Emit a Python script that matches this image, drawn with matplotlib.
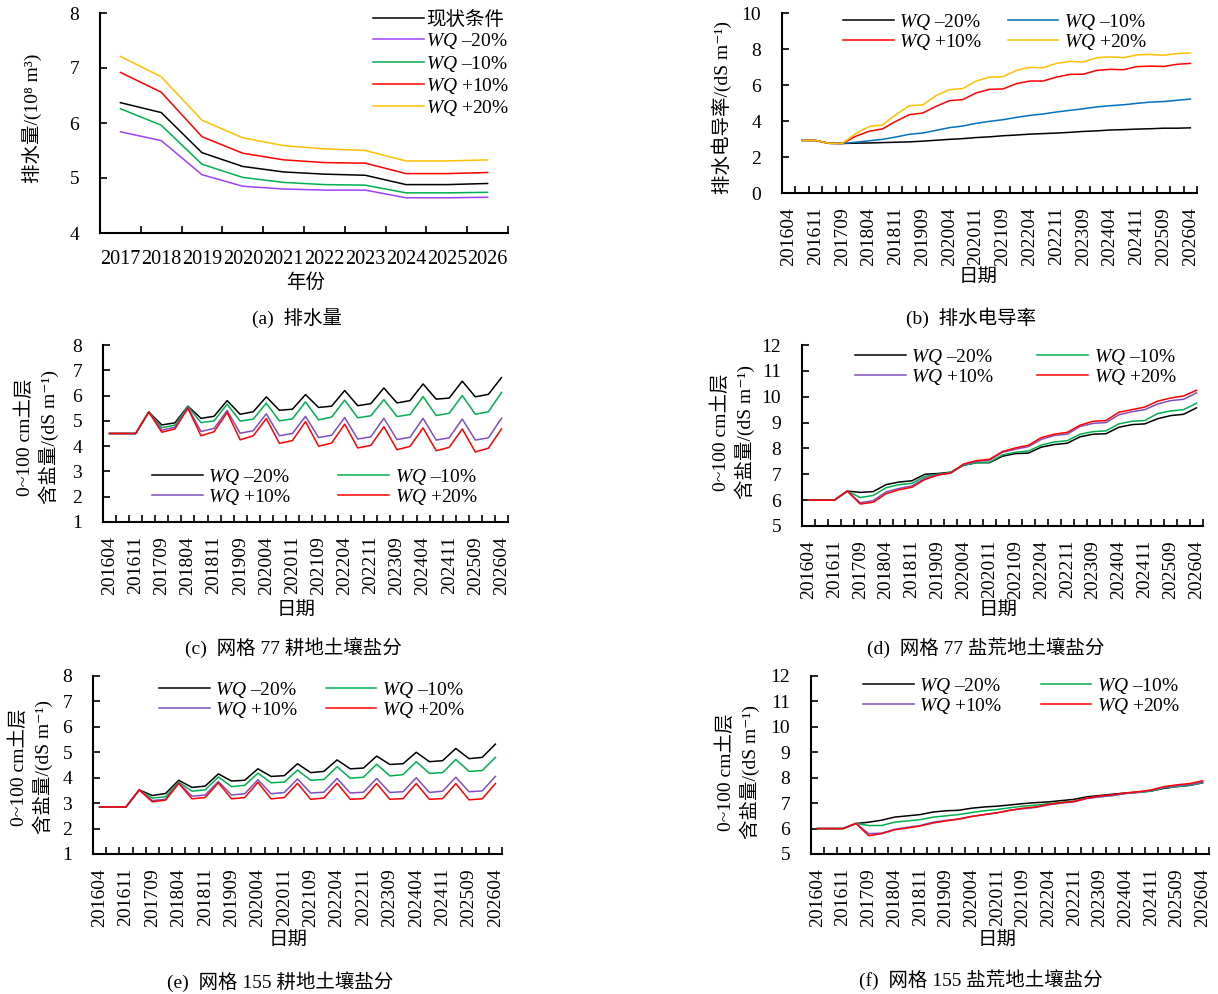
import numpy as np
import matplotlib.pyplot as plt

plt.rcParams['font.family'] = ['Liberation Serif', 'DejaVu Serif', 'Noto Sans CJK SC']
plt.rcParams['mathtext.fontset'] = 'custom'
plt.rcParams['mathtext.rm'] = 'Liberation Serif'
plt.rcParams['mathtext.it'] = 'Liberation Serif:italic'
plt.rcParams['axes.unicode_minus'] = False
plt.rcParams['font.size'] = 14

nan = np.nan

# (a) drainage volume by year
years = ['2017', '2018', '2019', '2020', '2021', '2022', '2023', '2024', '2025', '2026']
a_base = [6.37, 6.19, 5.46, 5.21, 5.11, 5.07, 5.05, 4.88, 4.88, 4.90]
a_m20 = [5.84, 5.68, 5.06, 4.85, 4.80, 4.78, 4.78, 4.64, 4.64, 4.65]
a_m10 = [6.26, 5.96, 5.25, 5.01, 4.92, 4.88, 4.87, 4.73, 4.73, 4.74]
a_p10 = [6.92, 6.56, 5.75, 5.45, 5.33, 5.28, 5.27, 5.08, 5.08, 5.10]
a_p20 = [7.21, 6.84, 6.05, 5.73, 5.59, 5.53, 5.50, 5.31, 5.31, 5.33]

# date categories (b)-(f)
dates = ['201604', '201609', '201611', '201704', '201709', '201711', '201804', '201809', '201811',
         '201904', '201909', '201911', '202004', '202009', '202011', '202104', '202109', '202111',
         '202204', '202209', '202211', '202304', '202309', '202311', '202404', '202409', '202411',
         '202504', '202509', '202511', '202604']

b_m20 = [nan, 2.92, 2.92, 2.76, 2.75, 2.77, 2.78, 2.80, 2.82, 2.84, 2.88, 2.93, 2.98, 3.02, 3.08, 3.12,
         3.18, 3.22, 3.27, 3.30, 3.33, 3.37, 3.42, 3.45, 3.50, 3.52, 3.55, 3.57, 3.60, 3.60, 3.62]
b_m10 = [nan, 2.92, 2.92, 2.76, 2.75, 2.82, 2.90, 2.98, 3.11, 3.26, 3.33, 3.48, 3.63, 3.72, 3.87, 3.98,
         4.07, 4.20, 4.31, 4.39, 4.50, 4.59, 4.68, 4.78, 4.85, 4.90, 4.98, 5.05, 5.08, 5.15, 5.22]
b_p10 = [nan, 2.92, 2.92, 2.76, 2.75, 3.15, 3.43, 3.56, 3.98, 4.35, 4.44, 4.81, 5.13, 5.19, 5.56, 5.76,
         5.78, 6.07, 6.22, 6.22, 6.44, 6.59, 6.60, 6.81, 6.87, 6.85, 7.02, 7.05, 7.03, 7.15, 7.20]
b_p20 = [nan, 2.92, 2.92, 2.76, 2.75, 3.30, 3.69, 3.78, 4.35, 4.85, 4.89, 5.41, 5.74, 5.80, 6.22, 6.44,
         6.46, 6.81, 6.98, 6.96, 7.20, 7.31, 7.28, 7.52, 7.56, 7.52, 7.67, 7.70, 7.65, 7.75, 7.78]

c_m20 = [4.5, 4.5, 4.5, 5.35, 4.84, 4.92, 5.58, 5.10, 5.18, 5.80, 5.26, 5.36, 5.95, 5.42, 5.46, 6.04,
         5.53, 5.58, 6.20, 5.60, 5.68, 6.30, 5.71, 5.80, 6.46, 5.86, 5.90, 6.57, 5.95, 6.05, 6.71]
c_m10 = [4.5, 4.5, 4.5, 5.35, 4.73, 4.83, 5.57, 4.93, 5.00, 5.66, 4.99, 5.07, 5.70, 5.00, 5.08, 5.75,
         5.04, 5.15, 5.82, 5.12, 5.20, 5.84, 5.17, 5.25, 5.96, 5.21, 5.30, 6.00, 5.26, 5.36, 6.12]
c_p10 = [4.5, 4.5, 4.5, 5.35, 4.63, 4.75, 5.53, 4.58, 4.70, 5.41, 4.51, 4.61, 5.28, 4.41, 4.50, 5.18,
         4.34, 4.43, 5.13, 4.28, 4.37, 5.10, 4.26, 4.35, 5.10, 4.24, 4.33, 5.07, 4.24, 4.33, 5.10]
c_p20 = [4.5, 4.5, 4.5, 5.35, 4.55, 4.68, 5.50, 4.41, 4.57, 5.33, 4.25, 4.41, 5.09, 4.11, 4.22, 4.97,
         4.00, 4.12, 4.87, 3.93, 4.03, 4.77, 3.86, 3.99, 4.72, 3.82, 3.95, 4.68, 3.77, 3.92, 4.68]

d_m20 = [6.0, 6.0, 6.0, 6.35, 6.30, 6.33, 6.60, 6.70, 6.75, 7.00, 7.03, 7.08, 7.35, 7.45, 7.45, 7.70,
         7.80, 7.82, 8.05, 8.15, 8.20, 8.45, 8.55, 8.57, 8.82, 8.92, 8.95, 9.15, 9.27, 9.32, 9.57]
d_m10 = [6.0, 6.0, 6.0, 6.35, 6.10, 6.18, 6.48, 6.60, 6.65, 6.92, 7.00, 7.07, 7.35, 7.45, 7.47, 7.75,
         7.85, 7.90, 8.13, 8.25, 8.30, 8.55, 8.65, 8.68, 8.95, 9.05, 9.08, 9.35, 9.45, 9.50, 9.75]
d_p10 = [6.0, 6.0, 6.0, 6.35, 5.90, 5.98, 6.32, 6.45, 6.55, 6.85, 6.98, 7.05, 7.38, 7.50, 7.55, 7.85,
         7.97, 8.07, 8.35, 8.50, 8.55, 8.85, 8.97, 9.00, 9.30, 9.42, 9.50, 9.72, 9.85, 9.90, 10.15]
d_p20 = [6.0, 6.0, 6.0, 6.35, 5.85, 5.92, 6.25, 6.40, 6.50, 6.80, 6.97, 7.05, 7.40, 7.53, 7.58, 7.88,
         8.02, 8.12, 8.42, 8.55, 8.62, 8.90, 9.05, 9.08, 9.40, 9.50, 9.60, 9.83, 9.95, 10.03, 10.25]

e_m20 = [2.85, 2.85, 2.85, 3.52, 3.30, 3.38, 3.90, 3.62, 3.67, 4.15, 3.87, 3.90, 4.35, 4.05, 4.08, 4.55,
         4.20, 4.25, 4.70, 4.35, 4.38, 4.85, 4.52, 4.55, 5.00, 4.63, 4.67, 5.15, 4.75, 4.80, 5.32]
e_m10 = [2.85, 2.85, 2.85, 3.52, 3.20, 3.25, 3.83, 3.47, 3.52, 4.03, 3.65, 3.70, 4.18, 3.80, 3.83, 4.30,
         3.90, 3.93, 4.43, 3.98, 4.02, 4.53, 4.07, 4.12, 4.63, 4.17, 4.20, 4.72, 4.25, 4.28, 4.80]
e_p10 = [2.85, 2.85, 2.85, 3.52, 3.10, 3.15, 3.80, 3.27, 3.32, 3.85, 3.32, 3.37, 3.92, 3.37, 3.42, 3.95,
         3.40, 3.43, 3.97, 3.40, 3.43, 3.97, 3.42, 3.45, 4.00, 3.42, 3.47, 4.02, 3.45, 3.48, 4.05]
e_p20 = [2.85, 2.85, 2.85, 3.52, 3.05, 3.12, 3.78, 3.17, 3.22, 3.80, 3.17, 3.22, 3.82, 3.17, 3.22, 3.78,
         3.15, 3.20, 3.78, 3.15, 3.18, 3.77, 3.15, 3.18, 3.77, 3.15, 3.18, 3.77, 3.13, 3.17, 3.77]

f_m20 = [6.0, 6.0, 6.0, 6.2, 6.25, 6.33, 6.45, 6.50, 6.55, 6.65, 6.70, 6.72, 6.80, 6.85, 6.88, 6.93,
         6.98, 7.02, 7.05, 7.10, 7.15, 7.25, 7.30, 7.35, 7.40, 7.43, 7.48, 7.58, 7.65, 7.70, 7.80]
f_m10 = [6.0, 6.0, 6.0, 6.2, 6.12, 6.12, 6.25, 6.30, 6.35, 6.45, 6.50, 6.55, 6.63, 6.70, 6.75, 6.82,
         6.88, 6.92, 6.98, 7.03, 7.08, 7.20, 7.25, 7.30, 7.38, 7.42, 7.47, 7.60, 7.65, 7.70, 7.80]
f_p10 = [6.0, 6.0, 6.0, 6.2, 5.80, 5.82, 5.97, 6.05, 6.12, 6.25, 6.32, 6.38, 6.48, 6.55, 6.62, 6.72,
         6.78, 6.83, 6.93, 7.00, 7.05, 7.18, 7.25, 7.30, 7.38, 7.43, 7.50, 7.62, 7.68, 7.73, 7.83]
f_p20 = [6.0, 6.0, 6.0, 6.2, 5.72, 5.80, 5.95, 6.02, 6.10, 6.22, 6.30, 6.37, 6.47, 6.55, 6.62, 6.72,
         6.80, 6.85, 6.95, 7.02, 7.07, 7.20, 7.28, 7.33, 7.40, 7.45, 7.52, 7.65, 7.72, 7.77, 7.88]

wq_labels = [r'$WQ$ –20%', r'$WQ$ –10%', r'$WQ$ +10%', r'$WQ$ +20%']

W, H = 1218, 994
fig = plt.figure(figsize=(W / 100, H / 100), dpi=100)


def rect(x, ytop, w, h):
    return [x / W, 1 - (ytop + h) / H, w / W, h / H]


def fxy(x, y):
    return x / W, 1 - y / H


def style(ax):
    for s in ['top', 'right']:
        ax.spines[s].set_visible(False)
    for s in ['left', 'bottom']:
        ax.spines[s].set_linewidth(1.5)
    ax.tick_params(axis='y', direction='in', length=5, width=1.2, pad=15, labelsize=14)


def date_panel(ax, series, colors, ylim, yticks, leg_xy, colspace):
    x = np.arange(len(dates))
    hs = [ax.plot(x, s, color=c, lw=1.1)[0] for s, c in zip(series, colors)]
    ax.set_xlim(-0.5, len(dates) - 0.5)
    ax.set_ylim(*ylim)
    ax.set_yticks(yticks)
    ax.set_xticks(x[::2])
    ax.set_xticklabels([dates[i] for i in x[::2]], rotation=90)
    ax.set_xticks(np.arange(-0.5, len(dates)), minor=True)
    style(ax)
    ax.tick_params(axis='x', which='major', length=0, pad=10, labelsize=14)
    ax.tick_params(axis='x', which='minor', direction='in', length=5, width=1.2)
    order = [0, 2, 1, 3]
    ax.legend([hs[i] for i in order], [wq_labels[i] for i in order], ncol=2, frameon=False,
              loc='upper left', bbox_to_anchor=fxy(*leg_xy), bbox_transform=fig.transFigure,
              handlelength=2.6, handletextpad=0.3, columnspacing=colspace, labelspacing=0.0,
              borderpad=0, borderaxespad=0, fontsize=14)
    return hs


# (a)
ax = fig.add_axes(rect(100, 13, 408, 220))
xa = np.arange(len(years))
a_series = [a_base, a_m20, a_m10, a_p10, a_p20]
a_colors = ['black', '#A040FF', '#00B050', '#FF0000', '#FFC000']
a_labels = ['现状条件'] + wq_labels
for s, c, l in zip(a_series, a_colors, a_labels):
    ax.plot(xa, s, color=c, lw=1.1, label=l)
ax.set_xlim(-0.5, len(years) - 0.5)
ax.set_ylim(4, 8)
ax.set_yticks([4, 5, 6, 7, 8])
ax.set_xticks(xa)
ax.set_xticklabels(years)
ax.set_xticks(np.arange(-0.5, len(years)), minor=True)
style(ax)
ax.tick_params(axis='x', which='major', length=0, pad=12, labelsize=14.5)
ax.tick_params(axis='x', which='minor', direction='in', length=5, width=1.2)
ax.legend(frameon=False, loc='upper left', bbox_to_anchor=fxy(373, 11), bbox_transform=fig.transFigure,
          handlelength=2.6, handletextpad=0.15, labelspacing=0.12, borderpad=0, borderaxespad=0,
          fontsize=14)
fig.text(*fxy(32, 118), '排水量/(10⁸ m³)', rotation=90, ha='center', va='center', fontsize=14)
fig.text(*fxy(306, 283), '年份', ha='center', va='center', fontsize=14)
fig.text(*fxy(297, 318), '(a)  排水量', ha='center', va='center', fontsize=14)

# (b)
ax = fig.add_axes(rect(782, 13, 415, 180))
date_panel(ax, [b_m20, b_m10, b_p10, b_p20], ['black', '#0070C0', '#FF0000', '#FFC000'],
           (0, 10), [0, 2, 4, 6, 8, 10], (843, 12), 1.3)
fig.text(*fxy(722, 108), '排水电导率/(dS m⁻¹)', rotation=90, ha='center', va='center', fontsize=14)
fig.text(*fxy(978, 277), '日期', ha='center', va='center', fontsize=14)
fig.text(*fxy(971, 318), '(b)  排水电导率', ha='center', va='center', fontsize=14)

soil_label = '0~100 cm土层\n含盐量/(dS m⁻¹)'
cols4 = ['black', '#00B050', '#7F4FBF', '#FF0000']

# (c)
ax = fig.add_axes(rect(103, 345, 405, 177))
date_panel(ax, [c_m20, c_m10, c_p10, c_p20], cols4, (1, 8), range(1, 9), (152, 467), 2.4)
fig.text(*fxy(37, 437), soil_label, rotation=90, ha='center', va='center', fontsize=14, linespacing=1.25)
fig.text(*fxy(296, 610), '日期', ha='center', va='center', fontsize=14)
fig.text(*fxy(293, 648), '(c)  网格 77 耕地土壤盐分', ha='center', va='center', fontsize=14)

# (d)
ax = fig.add_axes(rect(802, 345, 401, 181))
date_panel(ax, [d_m20, d_m10, d_p10, d_p20], cols4, (5, 12), range(5, 13), (855, 347), 2.2)
fig.text(*fxy(733, 432), soil_label, rotation=90, ha='center', va='center', fontsize=14, linespacing=1.25)
fig.text(*fxy(998, 610), '日期', ha='center', va='center', fontsize=14)
fig.text(*fxy(986, 648), '(d)  网格 77 盐荒地土壤盐分', ha='center', va='center', fontsize=14)

# (e)
ax = fig.add_axes(rect(93, 676, 409, 178))
date_panel(ax, [e_m20, e_m10, e_p10, e_p20], cols4, (1, 8), range(1, 9), (159, 680), 1.4)
fig.text(*fxy(31, 767), soil_label, rotation=90, ha='center', va='center', fontsize=14, linespacing=1.25)
fig.text(*fxy(288, 940), '日期', ha='center', va='center', fontsize=14)
fig.text(*fxy(280, 982), '(e)  网格 155 耕地土壤盐分', ha='center', va='center', fontsize=14)

# (f)
ax = fig.add_axes(rect(811, 676, 398, 178))
date_panel(ax, [f_m20, f_m10, f_p10, f_p20], cols4, (5, 12), range(5, 13), (863, 676), 1.95)
fig.text(*fxy(738, 772), soil_label, rotation=90, ha='center', va='center', fontsize=14, linespacing=1.25)
fig.text(*fxy(997, 940), '日期', ha='center', va='center', fontsize=14)
fig.text(*fxy(981, 980), '(f)  网格 155 盐荒地土壤盐分', ha='center', va='center', fontsize=14)

fig.savefig('out.png', dpi=100)
